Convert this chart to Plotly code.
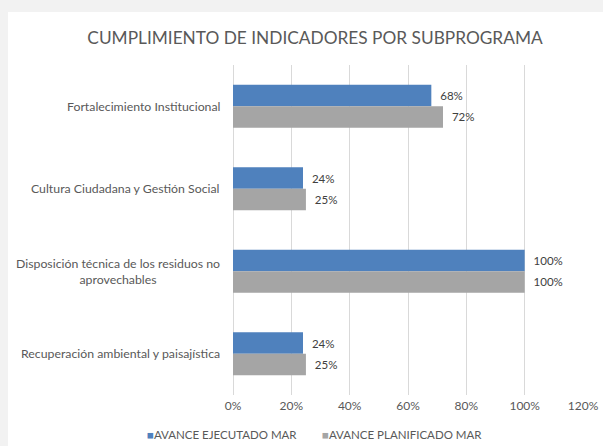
import plotly.graph_objects as go

categories = [
    "Fortalecimiento Institucional",
    "Cultura Ciudadana y Gestión Social",
    "Disposición técnica de los residuos no<br>aprovechables",
    "Recuperación ambiental y paisajística",
]
ejecutado = [0.68, 0.24, 1.00, 0.24]
planificado = [0.72, 0.25, 1.00, 0.25]
series_names = ["AVANCE EJECUTADO MAR", "AVANCE PLANIFICADO MAR"]
series_colors = ["#4F81BD", "#A5A5A5"]
title_text = "CUMPLIMIENTO DE INDICADORES POR SUBPROGRAMA"

FONT = "Lato"
W, H = 603, 446
ML, MR, MT, MB = 233, 20, 65, 51
PW, PH = W - ML - MR, H - MT - MB

def px_x(px):
    return (px - ML) / PW

def px_y(py):
    return (H - MB - py) / PH

fig = go.Figure()
for name, vals, color in zip(series_names, [ejecutado, planificado], series_colors):
    fig.add_trace(go.Bar(
        y=categories, x=vals, orientation="h", name=name,
        marker=dict(color=color, line=dict(width=0)),
        text=["  " + f"{v:.0%}" for v in vals],
        textposition="outside", cliponaxis=False,
        textfont=dict(family=FONT, size=11.5, color="#404040"),
    ))

# category labels (centered multi-line)
for c in categories:
    fig.add_annotation(
        x=px_x(222), xref="paper", y=c, yref="y",
        text=c, showarrow=False, xanchor="right", yanchor="middle",
        align="center", font=dict(family=FONT, size=12.3, color="#595959"),
    )

# legend drawn as text entries with coloured squares
for name, color, lx in zip(series_names, series_colors, [145, 320]):
    fig.add_annotation(
        x=px_x(lx), xref="paper", y=px_y(435), yref="paper",
        text=f"<span style='color:{color}'>■</span>{name}",
        showarrow=False, xanchor="left", yanchor="middle",
        font=dict(family=FONT, size=11.5, color="#595959"),
    )

# white chart area over gray page
fig.add_shape(type="rect", xref="paper", yref="paper",
              x0=px_x(8), x1=px_x(610), y0=px_y(450), y1=px_y(12),
              fillcolor="white", line=dict(width=0), layer="below")

fig.update_layout(
    width=W, height=H,
    margin=dict(l=ML, r=MR, t=MT, b=MB, autoexpand=False),
    paper_bgcolor="#F2F2F2", plot_bgcolor="white",
    barmode="group", bargap=0.48, bargroupgap=0,
    title=dict(text=title_text, x=315 / W, xref="container", xanchor="center",
               y=1 - 38 / H, yref="container", yanchor="middle",
               font=dict(family=FONT, size=17.3, color="#595959")),
    xaxis=dict(range=[0, 1.2], dtick=0.2, tickformat=".0%",
               showgrid=True, gridcolor="#D9D9D9", gridwidth=1,
               zeroline=True, zerolinecolor="#D9D9D9", zerolinewidth=1,
               showline=False, ticks="", ticklabelstandoff=2,
               tickfont=dict(family=FONT, size=12, color="#595959")),
    yaxis=dict(autorange="reversed", showticklabels=False, showgrid=False,
               zeroline=False, showline=False, ticks=""),
    showlegend=False,
)

fig.write_html("out.html", config={"displayModeBar": False},
               post_script="document.body.style.margin='0';document.body.style.overflow='hidden';")
